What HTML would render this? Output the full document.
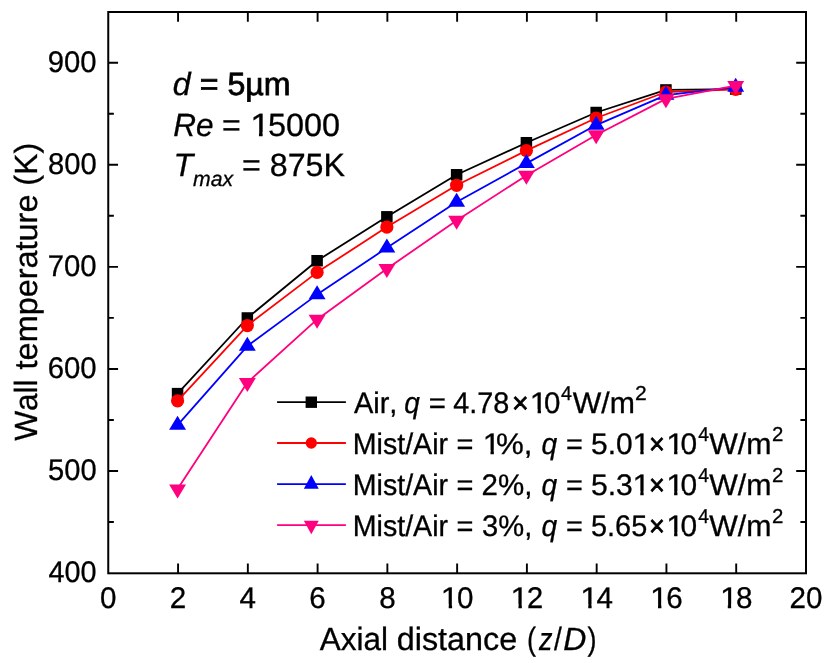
<!DOCTYPE html>
<html><head><meta charset="utf-8"><title>Wall temperature</title>
<style>
html,body{margin:0;padding:0;background:#ffffff;}
body{width:830px;height:663px;overflow:hidden;}
svg{display:block;will-change:transform;}
text{font-family:"Liberation Sans",sans-serif;fill:#000;font-kerning:none;white-space:pre;text-rendering:geometricPrecision;stroke:#000;stroke-width:0.3px;}
</style></head><body>
<svg width="830" height="663" viewBox="0 0 830 663">
<rect x="0" y="0" width="830" height="663" fill="#ffffff"/>

<rect x="108.25" y="12.00" width="697.75" height="561.30" fill="none" stroke="#000" stroke-width="2.0"/>
<path d="M178.07 573.3 v-9.8 M178.07 12.0 v9.8 M247.84 573.3 v-9.8 M247.84 12.0 v9.8 M317.60 573.3 v-9.8 M317.60 12.0 v9.8 M387.37 573.3 v-9.8 M387.37 12.0 v9.8 M457.13 573.3 v-9.8 M457.13 12.0 v9.8 M526.90 573.3 v-9.8 M526.90 12.0 v9.8 M596.67 573.3 v-9.8 M596.67 12.0 v9.8 M666.43 573.3 v-9.8 M666.43 12.0 v9.8 M736.20 573.3 v-9.8 M736.20 12.0 v9.8 M108.25 522.04 h5.6 M806.0 522.04 h-5.6 M108.25 471.00 h9.8 M806.0 471.00 h-9.8 M108.25 419.96 h5.6 M806.0 419.96 h-5.6 M108.25 368.93 h9.8 M806.0 368.93 h-9.8 M108.25 317.89 h5.6 M806.0 317.89 h-5.6 M108.25 266.85 h9.8 M806.0 266.85 h-9.8 M108.25 215.81 h5.6 M806.0 215.81 h-5.6 M108.25 164.77 h9.8 M806.0 164.77 h-9.8 M108.25 113.74 h5.6 M806.0 113.74 h-5.6 M108.25 62.70 h9.8 M806.0 62.70 h-9.8" stroke="#000" stroke-width="1.9" fill="none"/>
<text transform="translate(108.30,607.7) scale(1,1.012)" font-size="29.6" text-anchor="middle">0</text>
<text transform="translate(178.07,607.7) scale(1,1.012)" font-size="29.6" text-anchor="middle">2</text>
<text transform="translate(247.84,607.7) scale(1,1.012)" font-size="29.6" text-anchor="middle">4</text>
<text transform="translate(317.60,607.7) scale(1,1.012)" font-size="29.6" text-anchor="middle">6</text>
<text transform="translate(387.37,607.7) scale(1,1.012)" font-size="29.6" text-anchor="middle">8</text>
<text transform="translate(440.82,607.70) scale(1,1.012)" font-size="29.6" textLength="18.03" lengthAdjust="spacingAndGlyphs">1</text>
<text transform="translate(456.93,607.7) scale(1,1.012)" font-size="29.6">0</text>
<text transform="translate(510.58,607.70) scale(1,1.012)" font-size="29.6" textLength="18.03" lengthAdjust="spacingAndGlyphs">1</text>
<text transform="translate(526.70,607.7) scale(1,1.012)" font-size="29.6">2</text>
<text transform="translate(580.35,607.70) scale(1,1.012)" font-size="29.6" textLength="18.03" lengthAdjust="spacingAndGlyphs">1</text>
<text transform="translate(596.47,607.7) scale(1,1.012)" font-size="29.6">4</text>
<text transform="translate(650.11,607.70) scale(1,1.012)" font-size="29.6" textLength="18.03" lengthAdjust="spacingAndGlyphs">1</text>
<text transform="translate(666.23,607.7) scale(1,1.012)" font-size="29.6">6</text>
<text transform="translate(719.88,607.70) scale(1,1.012)" font-size="29.6" textLength="18.03" lengthAdjust="spacingAndGlyphs">1</text>
<text transform="translate(736.00,607.7) scale(1,1.012)" font-size="29.6">8</text>
<text transform="translate(805.96,607.7) scale(1,1.012)" font-size="29.6" text-anchor="middle">20</text>
<text transform="translate(48.54,582.08) scale(1,1.012)" font-size="29.6" textLength="48.09" lengthAdjust="spacingAndGlyphs">400</text>
<text transform="translate(48.03,480.00) scale(1,1.012)" font-size="29.6" textLength="48.60" lengthAdjust="spacingAndGlyphs">500</text>
<text transform="translate(47.71,377.93) scale(1,1.012)" font-size="29.6" textLength="48.94" lengthAdjust="spacingAndGlyphs">600</text>
<text transform="translate(47.70,275.85) scale(1,1.012)" font-size="29.6" textLength="48.95" lengthAdjust="spacingAndGlyphs">700</text>
<text transform="translate(47.93,173.77) scale(1,1.012)" font-size="29.6" textLength="48.71" lengthAdjust="spacingAndGlyphs">800</text>
<text transform="translate(47.83,71.70) scale(1,1.012)" font-size="29.6" textLength="48.81" lengthAdjust="spacingAndGlyphs">900</text>
<text transform="translate(319.84,649.60) scale(1,1.015)" font-size="31.6" textLength="68.27" lengthAdjust="spacingAndGlyphs">Axial</text>
<text transform="translate(396.74,649.60) scale(1,1.015)" font-size="31.6" textLength="120.50" lengthAdjust="spacingAndGlyphs">distance</text>
<text transform="translate(527.02,649.60) scale(1,1.015)" font-size="31.6" textLength="9.04" lengthAdjust="spacingAndGlyphs">(</text>
<text transform="translate(539.06,649.60) scale(1,1.015)" font-size="31.6" font-style="italic" textLength="13.51" lengthAdjust="spacingAndGlyphs">z</text>
<text transform="translate(554.00,649.60) scale(1,1.015)" font-size="31.6" textLength="7.80" lengthAdjust="spacingAndGlyphs">/</text>
<text transform="translate(563.22,649.60) scale(1,1.015)" font-size="31.6" font-style="italic" textLength="23.12" lengthAdjust="spacingAndGlyphs">D</text>
<text transform="translate(587.54,649.60) scale(1,1.015)" font-size="31.6" textLength="9.04" lengthAdjust="spacingAndGlyphs">)</text>
<text transform="translate(36.7,0) rotate(-90) translate(-440.84,0) scale(1,1.015)" font-size="31.6" textLength="61.45" lengthAdjust="spacingAndGlyphs">Wall</text>
<text transform="translate(36.7,0) rotate(-90) translate(-369.39,0) scale(1,1.015)" font-size="31.6" textLength="174.83" lengthAdjust="spacingAndGlyphs">temperature</text>
<text transform="translate(36.7,0) rotate(-90) translate(-185.70,0) scale(1,1.015)" font-size="31.6" textLength="42.89" lengthAdjust="spacingAndGlyphs">(K)</text>
<text x="172.8" y="94.8" font-size="32.2"><tspan font-style="italic">d</tspan> <tspan stroke="#000" stroke-width="0.75">= 5µm</tspan></text>
<text transform="translate(173.13,135.60) scale(1,1.0)" font-size="32.2" font-style="italic" textLength="40.34" lengthAdjust="spacingAndGlyphs">Re</text>
<text transform="translate(221.93,135.60) scale(1,1.0)" font-size="32.2" textLength="18.75" lengthAdjust="spacingAndGlyphs">=</text>
<text transform="translate(250.14,135.60) scale(1,1.0)" font-size="32.2" textLength="20.06" lengthAdjust="spacingAndGlyphs">1</text>
<text transform="translate(267.90,135.60) scale(1,1.0)" font-size="32.2" textLength="72.17" lengthAdjust="spacingAndGlyphs">5000</text>
<text x="173.4" y="175.6" font-size="32.2"><tspan font-style="italic">T</tspan><tspan font-style="italic" font-size="21.2" dy="10">max</tspan><tspan dy="-10"> = 875K</tspan></text>
<polyline points="177.57,393.63 247.34,317.99 317.10,260.73 386.87,216.83 456.63,174.78 526.40,142.73 596.17,112.51 665.93,89.95 735.70,89.04" fill="none" stroke="#000000" stroke-width="1.8" stroke-linejoin="round"/>
<rect x="171.82" y="387.88" width="11.5" height="11.5" fill="#000000"/>
<rect x="241.59" y="312.24" width="11.5" height="11.5" fill="#000000"/>
<rect x="311.35" y="254.98" width="11.5" height="11.5" fill="#000000"/>
<rect x="381.12" y="211.08" width="11.5" height="11.5" fill="#000000"/>
<rect x="450.88" y="169.03" width="11.5" height="11.5" fill="#000000"/>
<rect x="520.65" y="136.98" width="11.5" height="11.5" fill="#000000"/>
<rect x="590.42" y="106.76" width="11.5" height="11.5" fill="#000000"/>
<rect x="660.18" y="84.20" width="11.5" height="11.5" fill="#000000"/>
<rect x="729.95" y="83.29" width="11.5" height="11.5" fill="#000000"/>
<polyline points="177.57,400.87 247.34,325.54 317.10,272.36 386.87,227.04 456.63,185.29 526.40,150.59 596.17,118.02 665.93,92.00 735.70,89.44" fill="none" stroke="#ff0000" stroke-width="1.8" stroke-linejoin="round"/>
<circle cx="177.57" cy="400.87" r="6.6" fill="#ff0000"/>
<circle cx="247.34" cy="325.54" r="6.6" fill="#ff0000"/>
<circle cx="317.10" cy="272.36" r="6.6" fill="#ff0000"/>
<circle cx="386.87" cy="227.04" r="6.6" fill="#ff0000"/>
<circle cx="456.63" cy="185.29" r="6.6" fill="#ff0000"/>
<circle cx="526.40" cy="150.59" r="6.6" fill="#ff0000"/>
<circle cx="596.17" cy="118.02" r="6.6" fill="#ff0000"/>
<circle cx="665.93" cy="92.00" r="6.6" fill="#ff0000"/>
<circle cx="735.70" cy="89.44" r="6.6" fill="#ff0000"/>
<polyline points="177.57,425.07 247.34,346.06 317.10,294.61 386.87,247.86 456.63,202.03 526.40,163.35 596.17,125.07 665.93,95.16 735.70,87.20" fill="none" stroke="#0000ff" stroke-width="1.8" stroke-linejoin="round"/>
<polygon points="177.57,415.73 169.12,429.73 186.02,429.73" fill="#0000ff"/>
<polygon points="247.34,336.73 238.89,350.73 255.79,350.73" fill="#0000ff"/>
<polygon points="317.10,285.28 308.65,299.28 325.55,299.28" fill="#0000ff"/>
<polygon points="386.87,238.53 378.42,252.53 395.32,252.53" fill="#0000ff"/>
<polygon points="456.63,192.70 448.18,206.70 465.08,206.70" fill="#0000ff"/>
<polygon points="526.40,154.01 517.95,168.01 534.85,168.01" fill="#0000ff"/>
<polygon points="596.17,115.73 587.72,129.73 604.62,129.73" fill="#0000ff"/>
<polygon points="665.93,85.83 657.48,99.83 674.38,99.83" fill="#0000ff"/>
<polygon points="735.70,77.86 727.25,91.86 744.15,91.86" fill="#0000ff"/>
<polyline points="177.57,489.07 247.34,382.60 317.10,319.42 386.87,268.79 456.63,220.41 526.40,175.49 596.17,134.97 665.93,98.83 735.70,85.67" fill="none" stroke="#ff007f" stroke-width="1.8" stroke-linejoin="round"/>
<polygon points="177.57,498.40 169.12,484.40 186.02,484.40" fill="#ff007f"/>
<polygon points="247.34,391.94 238.89,377.94 255.79,377.94" fill="#ff007f"/>
<polygon points="317.10,328.75 308.65,314.75 325.55,314.75" fill="#ff007f"/>
<polygon points="386.87,278.12 378.42,264.12 395.32,264.12" fill="#ff007f"/>
<polygon points="456.63,229.74 448.18,215.74 465.08,215.74" fill="#ff007f"/>
<polygon points="526.40,184.83 517.95,170.83 534.85,170.83" fill="#ff007f"/>
<polygon points="596.17,144.30 587.72,130.30 604.62,130.30" fill="#ff007f"/>
<polygon points="665.93,108.17 657.48,94.17 674.38,94.17" fill="#ff007f"/>
<polygon points="735.70,95.00 727.25,81.00 744.15,81.00" fill="#ff007f"/>
<line x1="277.1" y1="402.2" x2="345.9" y2="402.2" stroke="#000000" stroke-width="1.8"/>
<rect x="305.60" y="396.50" width="11.4" height="11.4" fill="#000000"/>
<line x1="277.1" y1="443.0" x2="345.9" y2="443.0" stroke="#ff0000" stroke-width="1.8"/>
<circle cx="311.30" cy="443.00" r="5.65" fill="#ff0000"/>
<line x1="277.1" y1="484.1" x2="345.9" y2="484.1" stroke="#0000ff" stroke-width="1.8"/>
<polygon points="311.30,475.03 303.85,488.63 318.75,488.63" fill="#0000ff"/>
<line x1="277.1" y1="525.2" x2="345.9" y2="525.2" stroke="#ff007f" stroke-width="1.8"/>
<polygon points="311.30,534.27 303.85,520.67 318.75,520.67" fill="#ff007f"/>
<text transform="translate(353.94,412.70) scale(1,1.04)" font-size="28.6" textLength="43.46" lengthAdjust="spacingAndGlyphs">Air,</text>
<text transform="translate(404.26,412.70) scale(1,1.04)" font-size="28.6" font-style="italic" textLength="15.53" lengthAdjust="spacingAndGlyphs">q</text>
<text transform="translate(428.66,412.70) scale(1,1.04)" font-size="28.6" textLength="17.19" lengthAdjust="spacingAndGlyphs">=</text>
<text transform="translate(453.34,412.70) scale(1,1.04)" font-size="28.6" textLength="56.01" lengthAdjust="spacingAndGlyphs">4.78</text>
<text transform="translate(512.12,412.70) scale(1,1.04)" font-size="28.6" textLength="16.64" lengthAdjust="spacingAndGlyphs" style="stroke-width:0.7px">×</text>
<text transform="translate(529.81,412.70) scale(1,1.04)" font-size="28.6" textLength="17.81" lengthAdjust="spacingAndGlyphs">1</text>
<text transform="translate(544.05,412.70) scale(1,1.04)" font-size="28.6" textLength="16.40" lengthAdjust="spacingAndGlyphs">0</text>
<text transform="translate(561.05,400.40) scale(1,1.04)" font-size="19.3" textLength="10.93" lengthAdjust="spacingAndGlyphs">4</text>
<text transform="translate(572.77,412.70) scale(1,1.04)" font-size="28.6" textLength="62.13" lengthAdjust="spacingAndGlyphs">W/m</text>
<text transform="translate(634.94,400.40) scale(1,1.04)" font-size="19.3" textLength="11.72" lengthAdjust="spacingAndGlyphs">2</text>
<text transform="translate(352.75,453.50) scale(1,1.04)" font-size="28.6" textLength="95.32" lengthAdjust="spacingAndGlyphs">Mist/Air</text>
<text transform="translate(456.58,453.50) scale(1,1.04)" font-size="28.6" textLength="16.95" lengthAdjust="spacingAndGlyphs">=</text>
<text transform="translate(482.71,453.50) scale(1,1.04)" font-size="28.6" textLength="17.81" lengthAdjust="spacingAndGlyphs">1</text>
<text transform="translate(496.09,453.50) scale(1,1.04)" font-size="28.6" textLength="36.42" lengthAdjust="spacingAndGlyphs">%,</text>
<text transform="translate(541.45,453.50) scale(1,1.04)" font-size="28.6" font-style="italic" textLength="15.64" lengthAdjust="spacingAndGlyphs">q</text>
<text transform="translate(565.89,453.50) scale(1,1.04)" font-size="28.6" textLength="16.83" lengthAdjust="spacingAndGlyphs">=</text>
<text transform="translate(591.00,453.50) scale(1,1.04)" font-size="28.6" textLength="41.67" lengthAdjust="spacingAndGlyphs">5.0</text>
<text transform="translate(632.51,453.50) scale(1,1.04)" font-size="28.6" textLength="17.81" lengthAdjust="spacingAndGlyphs">1</text>
<text transform="translate(649.12,453.50) scale(1,1.04)" font-size="28.6" textLength="15.85" lengthAdjust="spacingAndGlyphs" style="stroke-width:0.7px">×</text>
<text transform="translate(666.31,453.50) scale(1,1.04)" font-size="28.6" textLength="17.81" lengthAdjust="spacingAndGlyphs">1</text>
<text transform="translate(680.53,453.50) scale(1,1.04)" font-size="28.6" textLength="16.64" lengthAdjust="spacingAndGlyphs">0</text>
<text transform="translate(698.36,441.20) scale(1,1.04)" font-size="19.3" textLength="10.71" lengthAdjust="spacingAndGlyphs">4</text>
<text transform="translate(709.17,453.50) scale(1,1.04)" font-size="28.6" textLength="62.33" lengthAdjust="spacingAndGlyphs">W/m</text>
<text transform="translate(772.07,441.20) scale(1,1.04)" font-size="19.3" textLength="11.35" lengthAdjust="spacingAndGlyphs">2</text>
<text transform="translate(352.75,494.60) scale(1,1.04)" font-size="28.6" textLength="95.32" lengthAdjust="spacingAndGlyphs">Mist/Air</text>
<text transform="translate(456.58,494.60) scale(1,1.04)" font-size="28.6" textLength="16.95" lengthAdjust="spacingAndGlyphs">=</text>
<text transform="translate(481.52,494.60) scale(1,1.04)" font-size="28.6" textLength="50.83" lengthAdjust="spacingAndGlyphs">2%,</text>
<text transform="translate(541.45,494.60) scale(1,1.04)" font-size="28.6" font-style="italic" textLength="15.64" lengthAdjust="spacingAndGlyphs">q</text>
<text transform="translate(565.89,494.60) scale(1,1.04)" font-size="28.6" textLength="16.83" lengthAdjust="spacingAndGlyphs">=</text>
<text transform="translate(591.00,494.60) scale(1,1.04)" font-size="28.6" textLength="41.83" lengthAdjust="spacingAndGlyphs">5.3</text>
<text transform="translate(632.51,494.60) scale(1,1.04)" font-size="28.6" textLength="17.81" lengthAdjust="spacingAndGlyphs">1</text>
<text transform="translate(649.12,494.60) scale(1,1.04)" font-size="28.6" textLength="15.85" lengthAdjust="spacingAndGlyphs" style="stroke-width:0.7px">×</text>
<text transform="translate(666.31,494.60) scale(1,1.04)" font-size="28.6" textLength="17.81" lengthAdjust="spacingAndGlyphs">1</text>
<text transform="translate(680.53,494.60) scale(1,1.04)" font-size="28.6" textLength="16.64" lengthAdjust="spacingAndGlyphs">0</text>
<text transform="translate(698.36,482.30) scale(1,1.04)" font-size="19.3" textLength="10.71" lengthAdjust="spacingAndGlyphs">4</text>
<text transform="translate(709.17,494.60) scale(1,1.04)" font-size="28.6" textLength="62.33" lengthAdjust="spacingAndGlyphs">W/m</text>
<text transform="translate(772.07,482.30) scale(1,1.04)" font-size="19.3" textLength="11.35" lengthAdjust="spacingAndGlyphs">2</text>
<text transform="translate(352.75,535.70) scale(1,1.04)" font-size="28.6" textLength="95.32" lengthAdjust="spacingAndGlyphs">Mist/Air</text>
<text transform="translate(456.58,535.70) scale(1,1.04)" font-size="28.6" textLength="16.95" lengthAdjust="spacingAndGlyphs">=</text>
<text transform="translate(482.09,535.70) scale(1,1.04)" font-size="28.6" textLength="50.23" lengthAdjust="spacingAndGlyphs">3%,</text>
<text transform="translate(541.45,535.70) scale(1,1.04)" font-size="28.6" font-style="italic" textLength="15.64" lengthAdjust="spacingAndGlyphs">q</text>
<text transform="translate(565.89,535.70) scale(1,1.04)" font-size="28.6" textLength="16.83" lengthAdjust="spacingAndGlyphs">=</text>
<text transform="translate(591.04,535.70) scale(1,1.04)" font-size="28.6" textLength="56.17" lengthAdjust="spacingAndGlyphs">5.65</text>
<text transform="translate(649.12,535.70) scale(1,1.04)" font-size="28.6" textLength="15.85" lengthAdjust="spacingAndGlyphs" style="stroke-width:0.7px">×</text>
<text transform="translate(666.31,535.70) scale(1,1.04)" font-size="28.6" textLength="17.81" lengthAdjust="spacingAndGlyphs">1</text>
<text transform="translate(680.53,535.70) scale(1,1.04)" font-size="28.6" textLength="16.64" lengthAdjust="spacingAndGlyphs">0</text>
<text transform="translate(698.36,523.40) scale(1,1.04)" font-size="19.3" textLength="10.71" lengthAdjust="spacingAndGlyphs">4</text>
<text transform="translate(709.17,535.70) scale(1,1.04)" font-size="28.6" textLength="62.33" lengthAdjust="spacingAndGlyphs">W/m</text>
<text transform="translate(772.07,523.40) scale(1,1.04)" font-size="19.3" textLength="11.35" lengthAdjust="spacingAndGlyphs">2</text>
<rect x="442.08" y="604.26" width="6.63" height="5.74" fill="#fff"/>
<rect x="452.08" y="604.26" width="6.38" height="5.74" fill="#fff"/>
<rect x="511.85" y="604.26" width="6.63" height="5.74" fill="#fff"/>
<rect x="521.85" y="604.26" width="6.38" height="5.74" fill="#fff"/>
<rect x="581.62" y="604.26" width="6.63" height="5.74" fill="#fff"/>
<rect x="591.62" y="604.26" width="6.38" height="5.74" fill="#fff"/>
<rect x="651.38" y="604.26" width="6.63" height="5.74" fill="#fff"/>
<rect x="661.38" y="604.26" width="6.38" height="5.74" fill="#fff"/>
<rect x="721.15" y="604.26" width="6.63" height="5.74" fill="#fff"/>
<rect x="731.15" y="604.26" width="6.38" height="5.74" fill="#fff"/>
<rect x="251.69" y="131.99" width="7.27" height="5.91" fill="#fff"/>
<rect x="262.65" y="131.99" width="6.99" height="5.91" fill="#fff"/>
<rect x="531.05" y="409.28" width="6.56" height="5.72" fill="#fff"/>
<rect x="540.95" y="409.28" width="6.31" height="5.72" fill="#fff"/>
<rect x="483.95" y="450.08" width="6.56" height="5.72" fill="#fff"/>
<rect x="493.85" y="450.08" width="6.31" height="5.72" fill="#fff"/>
<rect x="633.75" y="450.08" width="6.56" height="5.72" fill="#fff"/>
<rect x="643.65" y="450.08" width="6.31" height="5.72" fill="#fff"/>
<rect x="667.55" y="450.08" width="6.56" height="5.72" fill="#fff"/>
<rect x="677.45" y="450.08" width="6.31" height="5.72" fill="#fff"/>
<rect x="633.75" y="491.18" width="6.56" height="5.72" fill="#fff"/>
<rect x="643.65" y="491.18" width="6.31" height="5.72" fill="#fff"/>
<rect x="667.55" y="491.18" width="6.56" height="5.72" fill="#fff"/>
<rect x="677.45" y="491.18" width="6.31" height="5.72" fill="#fff"/>
<rect x="667.55" y="532.28" width="6.56" height="5.72" fill="#fff"/>
<rect x="677.45" y="532.28" width="6.31" height="5.72" fill="#fff"/>
</svg></body></html>
